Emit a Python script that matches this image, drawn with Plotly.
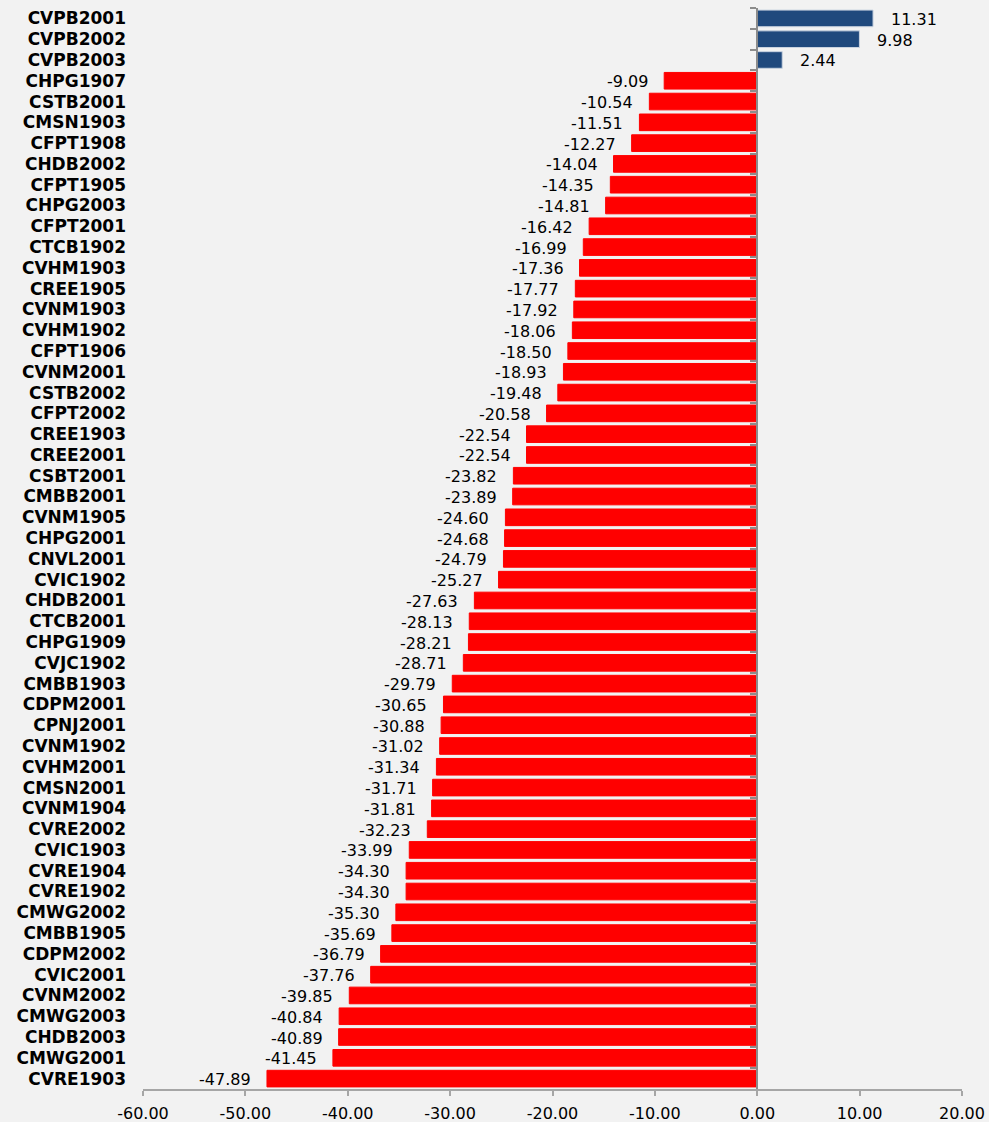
import plotly.graph_objects as go

codes = [
    "CVPB2001", "CVPB2002", "CVPB2003", "CHPG1907", "CSTB2001", "CMSN1903",
    "CFPT1908", "CHDB2002", "CFPT1905", "CHPG2003", "CFPT2001", "CTCB1902",
    "CVHM1903", "CREE1905", "CVNM1903", "CVHM1902", "CFPT1906", "CVNM2001",
    "CSTB2002", "CFPT2002", "CREE1903", "CREE2001", "CSBT2001", "CMBB2001",
    "CVNM1905", "CHPG2001", "CNVL2001", "CVIC1902", "CHDB2001", "CTCB2001",
    "CHPG1909", "CVJC1902", "CMBB1903", "CDPM2001", "CPNJ2001", "CVNM1902",
    "CVHM2001", "CMSN2001", "CVNM1904", "CVRE2002", "CVIC1903", "CVRE1904",
    "CVRE1902", "CMWG2002", "CMBB1905", "CDPM2002", "CVIC2001", "CVNM2002",
    "CMWG2003", "CHDB2003", "CMWG2001", "CVRE1903",
]
changes = [
    11.31, 9.98, 2.44, -9.09, -10.54, -11.51,
    -12.27, -14.04, -14.35, -14.81, -16.42, -16.99,
    -17.36, -17.77, -17.92, -18.06, -18.50, -18.93,
    -19.48, -20.58, -22.54, -22.54, -23.82, -23.89,
    -24.60, -24.68, -24.79, -25.27, -27.63, -28.13,
    -28.21, -28.71, -29.79, -30.65, -30.88, -31.02,
    -31.34, -31.71, -31.81, -32.23, -33.99, -34.30,
    -34.30, -35.30, -35.69, -36.79, -37.76, -39.85,
    -40.84, -40.89, -41.45, -47.89,
]
x_ticks = [-60, -50, -40, -30, -20, -10, 0, 10, 20]

POS = "#1f497d"
NEG = "#ff0000"
FONT = "DejaVu Sans, Verdana, sans-serif"

colors = [POS if v >= 0 else NEG for v in changes]
outline = ["#c9d3e0" if v >= 0 else NEG for v in changes]

fig = go.Figure()
fig.add_trace(go.Bar(
    x=changes, y=codes, orientation="h",
    marker=dict(color=colors, line=dict(color=outline, width=1)),
    yaxis="y", hoverinfo="x+y",
))
# invisible carrier trace so the left label axis knows the categories
fig.add_trace(go.Scatter(
    x=[0] * len(codes), y=codes, yaxis="y2", mode="markers",
    marker=dict(opacity=0), hoverinfo="skip", showlegend=False,
))

annotations = []
for c, v in zip(codes, changes):
    annotations.append(dict(
        x=v, y=c, xref="x", yref="y", text=f"{v:.2f}", showarrow=False,
        xanchor="left" if v >= 0 else "right",
        xshift=16 if v >= 0 else -14, yshift=-1,
        font=dict(family=FONT, size=16, color="#000000"),
    ))

cat_range = [len(codes) - 0.5, -0.5]

fig.update_layout(
    width=989, height=1122,
    margin=dict(l=143, r=27, t=8, b=33, autoexpand=False),
    paper_bgcolor="#f2f2f2", plot_bgcolor="#f2f2f2",
    showlegend=False, bargap=0.2,
    font=dict(family=FONT, size=16, color="#000000"),
    annotations=annotations,
    xaxis=dict(
        range=[-60, 20], tickvals=x_ticks,
        ticktext=[f"{t:.2f}" for t in x_ticks],
        showgrid=False, zeroline=False, automargin=False,
        showline=True, linecolor="#a6a6a6", linewidth=2,
        ticks="outside", ticklen=5, tickcolor="#a6a6a6", tickwidth=2,
        ticklabelstandoff=4,
        tickfont=dict(family=FONT, size=16, color="#000000"),
    ),
    # vertical axis drawn through zero, ticks on category boundaries
    yaxis=dict(
        type="category", categoryorder="array", categoryarray=codes,
        range=cat_range, anchor="free", position=0.75, automargin=False,
        showline=True, linecolor="#8c8c8c", linewidth=2,
        ticks="outside", ticklen=6, tickcolor="#8c8c8c", tickwidth=2,
        tickson="boundaries", showticklabels=False,
        showgrid=False, zeroline=False,
    ),
    # category names along the left edge of the plot
    yaxis2=dict(
        type="category", categoryorder="array", categoryarray=codes,
        range=cat_range, overlaying="y", side="left", anchor="x",
        showline=False, ticks="", showgrid=False, zeroline=False,
        automargin=False, ticklabelstandoff=16,
        tickfont=dict(family="DejaVu Sans, Verdana, sans-serif", size=17,
                      color="#000000", weight="bold"),
    ),
)

fig.write_html("out.html")
